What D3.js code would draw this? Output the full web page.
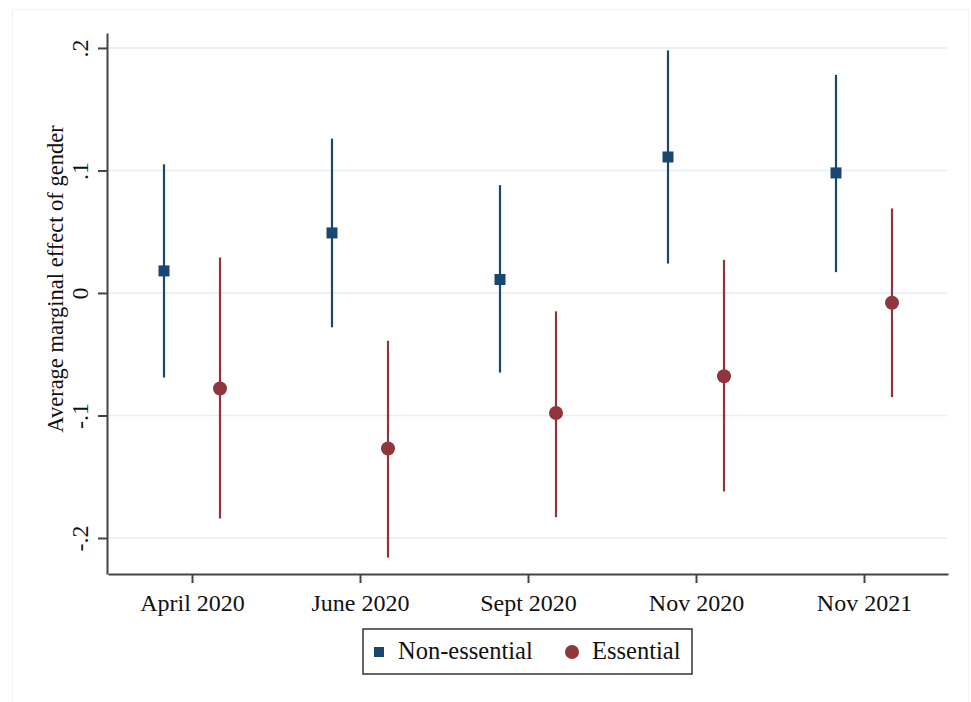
<!DOCTYPE html>
<html>
<head>
<meta charset="utf-8">
<script src="https://cdn.jsdelivr.net/npm/d3@7"></script>
<style>
  html, body { margin: 0; padding: 0; background: #ffffff; }
  svg { display: block; }
  text { font-family: "Liberation Serif", "Times New Roman", serif; fill: #111; }
</style>
</head>
<body>
<svg id="chart" width="971" height="702"></svg>
<script>
const categories = ["April 2020", "June 2020", "Sept 2020", "Nov 2020", "Nov 2021"];
const nonEssEst   = [0.018, 0.049, 0.011, 0.111, 0.098];
const nonEssLow   = [-0.069, -0.028, -0.065, 0.024, 0.017];
const nonEssHigh  = [0.105, 0.126, 0.088, 0.198, 0.178];
const essEst      = [-0.078, -0.127, -0.098, -0.068, -0.008];
const essLow      = [-0.184, -0.216, -0.183, -0.162, -0.085];
const essHigh     = [0.029, -0.039, -0.015, 0.027, 0.069];
const yTicks = [-0.2, -0.1, 0, 0.1, 0.2];
const yTickLabels = ["-.2", "-.1", "0", ".1", ".2"];
const seriesNames = ["Non-essential", "Essential"];
const yTitle = "Average marginal effect of gender";

const navy = "#1a476f", maroon = "#90353b";

const svg = d3.select("#chart");

// faint outer frame
svg.append("rect").attr("x", 12.5).attr("y", 9.5).attr("width", 956).attr("height", 700)
  .attr("fill", "none").attr("stroke", "#eef3f5").attr("stroke-width", 1);

const x = d3.scaleLinear().domain([-0.5, categories.length - 0.5]).range([108, 948]);
const y = d3.scaleLinear().domain([-0.2294, 0.2122]).range([574, 33]);
const off = 1 / 6;

// gridlines
svg.append("g").selectAll("line").data(yTicks).join("line")
  .attr("x1", 108).attr("x2", 947)
  .attr("y1", d => y(d)).attr("y2", d => y(d))
  .attr("stroke", "#e6eef2").attr("stroke-width", 1.5);

// y axis
const yAxis = d3.axisLeft(y).tickValues(yTicks)
  .tickFormat((d, i) => yTickLabels[i]).tickSize(9).tickSizeOuter(0);
const gy = svg.append("g").attr("transform", "translate(107,0)").call(yAxis);
gy.select(".domain").attr("stroke", "#444").attr("stroke-width", 2);
gy.selectAll(".tick line").attr("stroke", "#444").attr("stroke-width", 2);
gy.selectAll(".tick text")
  .attr("font-size", 24).attr("font-family", "Liberation Serif, serif")
  .attr("fill", "#111")
  .attr("text-anchor", "middle")
  .attr("dominant-baseline", "auto")
  .attr("x", null).attr("dy", null)
  .attr("transform", "translate(-19,0) rotate(-90)");

// x axis
const xAxis = d3.axisBottom(x).tickValues(d3.range(categories.length))
  .tickFormat(i => categories[i]).tickSize(9).tickSizeOuter(0);
const gx = svg.append("g").attr("transform", "translate(0,574)").call(xAxis);
gx.select(".domain").attr("stroke", "#444").attr("stroke-width", 2);
gx.selectAll(".tick line").attr("stroke", "#444").attr("stroke-width", 2);
gx.selectAll(".tick text")
  .attr("font-size", 24).attr("font-family", "Liberation Serif, serif")
  .attr("fill", "#111").attr("y", 20).attr("dy", "0.71em");

// y title
svg.append("text")
  .attr("transform", `translate(63,${279}) rotate(-90)`)
  .attr("text-anchor", "middle")
  .attr("font-size", 22.5)
  .text(yTitle);

// series
const nonEss = categories.map((c, i) => ({ i, est: nonEssEst[i], lo: nonEssLow[i], hi: nonEssHigh[i] }));
const ess = categories.map((c, i) => ({ i, est: essEst[i], lo: essLow[i], hi: essHigh[i] }));

const gN = svg.append("g");
gN.selectAll("line").data(nonEss).join("line")
  .attr("x1", d => x(d.i - off)).attr("x2", d => x(d.i - off))
  .attr("y1", d => y(d.lo)).attr("y2", d => y(d.hi))
  .attr("stroke", navy).attr("stroke-width", 2.2);
gN.selectAll("rect").data(nonEss).join("rect")
  .attr("x", d => x(d.i - off) - 5.5).attr("y", d => y(d.est) - 5.5)
  .attr("width", 11).attr("height", 11).attr("fill", navy);

const gE = svg.append("g");
gE.selectAll("line").data(ess).join("line")
  .attr("x1", d => x(d.i + off)).attr("x2", d => x(d.i + off))
  .attr("y1", d => y(d.lo)).attr("y2", d => y(d.hi))
  .attr("stroke", maroon).attr("stroke-width", 2.2);
gE.selectAll("circle").data(ess).join("circle")
  .attr("cx", d => x(d.i + off)).attr("cy", d => y(d.est))
  .attr("r", 7).attr("fill", maroon);

// legend
const lg = svg.append("g");
lg.append("rect").attr("x", 363).attr("y", 629).attr("width", 329).attr("height", 45)
  .attr("fill", "#fff").attr("stroke", "#333").attr("stroke-width", 1.5);
lg.append("rect").attr("x", 374).attr("y", 647).attr("width", 10).attr("height", 10).attr("fill", navy);
lg.append("text").attr("x", 398).attr("y", 659).attr("font-size", 24.5).text(seriesNames[0]);
lg.append("circle").attr("cx", 572).attr("cy", 652).attr("r", 7).attr("fill", maroon);
lg.append("text").attr("x", 592).attr("y", 659).attr("font-size", 24.5).text(seriesNames[1]);
</script>
</body>
</html>
